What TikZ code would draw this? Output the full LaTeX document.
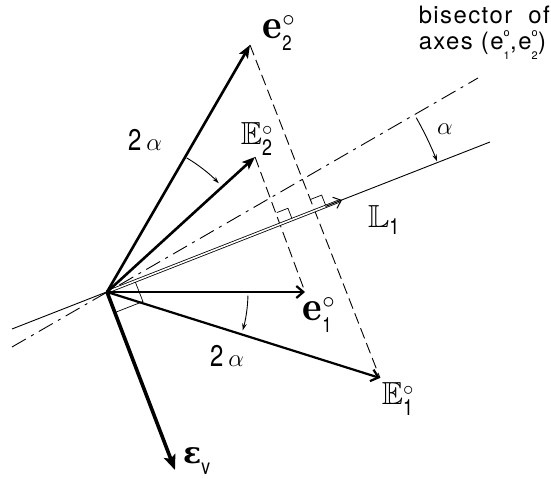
\documentclass[tikz,border=0pt]{standalone}
\usepackage{amsmath,amssymb}
\usepackage{fontspec}
\newfontfamily\lett[FakeStretch=0.8]{TeX Gyre Heros}
\newfontfamily\notefont[LetterSpace=6]{TeX Gyre Heros}
\newfontfamily\greekb{DejaVu Serif}
\newcommand\ssub[1]{\text{\notefont\fontsize{11}{11}\selectfont #1}}
\newcommand\lsub[1]{\raisebox{-4bp}{\lett\fontsize{21}{21}\selectfont #1}}
\newcommand\lsup{\raisebox{3bp}{$\scriptstyle\circ$}}
\usetikzlibrary{arrows.meta,calc}
\begin{document}
\begin{tikzpicture}[x=1bp,y=1bp,
  thinline/.style={line width=0.9bp},
  dashline/.style={line width=0.9bp,dash pattern=on 11bp off 5bp},
  dashdot/.style={line width=0.9bp,dash pattern=on 16bp off 6bp on 3bp off 6bp},
  vec/.style={line width=2.6bp,-{Stealth[length=13bp,width=10bp,inset=3bp]}},
  vecopen/.style={line width=2.2bp,-{Straight Barb[length=7bp,width=12bp]}},
  anglearrow/.style={line width=0.9bp,-{Stealth[length=7bp,width=4.5bp]}},
  lbl/.style={inner sep=0pt,font=\lett\fontsize{30}{30}\selectfont},
  big/.style={inner sep=0pt,font=\fontsize{42}{42}\selectfont},
  bb/.style={inner sep=0pt,font=\fontsize{32}{32}\selectfont},
  note/.style={inner sep=0pt,font=\notefont\fontsize{24}{26}\selectfont,align=left}]
\useasboundingbox (0,0) rectangle (551,479);
% points
\coordinate (O) at (107,187);
\coordinate (e2) at (250,434);
\coordinate (E2) at (255,322);
\coordinate (e1) at (305,187);
\coordinate (E1) at (380,101);
\coordinate (L1) at (342,279);
\coordinate (L1end) at (490,337);
\coordinate (L1back) at (12,150);
\coordinate (Bend) at (478,401);
\coordinate (Bback) at (12,132);
\coordinate (Ev) at (175,9);
\coordinate (F1) at ($(O)!(e2)!(L1)$);
\coordinate (F2) at ($(O)!(E2)!(L1)$);
% bisector and L1 axis
\draw[dashdot] (Bback) -- (Bend);
\draw[thinline] (L1back) -- (L1end);
% dashed projections
\draw[dashline] (e2) -- (E1);
\draw[dashline] (E2) -- (e1);
% right-angle marks
\draw[line width=0.7bp] ($(F1)!12bp!(e2)$) -- ++(21.38:12) -- ($(F1)!12bp!(L1)$);
\draw[line width=0.7bp] ($(F2)!12bp!(E2)$) -- ++(21.38:12) -- ($(F2)!12bp!(L1)$);
\draw[line width=0.7bp] ($(O)!30bp!(L1)$) -- ++(-68.62:22) -- ($(O)!22bp!(Ev)$);
% L1 double vector
\draw[line width=0.8bp,double=white,double distance=1.6bp,shorten >=3bp] (O) -- (L1);
\draw[line width=1bp,-{Straight Barb[length=7bp,width=12bp]}] ($(O)!0.93!(L1)$) -- (L1);
% vectors
\draw[vec] (O) -- (e2);
\draw[vec] (O) -- (E2);
\draw[vecopen] (O) -- (e1);
\draw[vecopen] (O) -- (E1);
\draw[line width=3.6bp,-{Stealth[length=15bp,width=12bp,inset=3bp]}] (O) -- (Ev);
% angle arcs
\draw[anglearrow] ($(O)+(59.3:156)$) arc[start angle=59.3,end angle=44.2,radius=156];
\draw[anglearrow] ($(O)+(-1.5:141)$) arc[start angle=-1.5,end angle=-15.8,radius=141];
\draw[anglearrow] ($(O)+(29.4:355)$) arc[start angle=29.4,end angle=21.6,radius=355];
% labels
\node[big] (le2) at (279,446) {$\mathbf{e}^{\lsup}_{\lsub{2}}$};
\node[bb] (lE2) at (257,340) {$\mathbb{E}^{\circ}_{\text{\lett 2}}$};
\node[lbl] (la1) at (145,339) {2\,$\alpha$};
\node[bb] (lL1) at (384,259) {$\mathbb{L}_{\text{\lett 1}}$};
\node[lbl] (la) at (445,350) {$\alpha$};
\node[big] (le1) at (319,164) {$\mathbf{e}^{\lsup}_{\lsub{1}}$};
\node[lbl] (la2) at (227,123) {2\,$\alpha$};
\node[bb] (lE1) at (398,80) {$\mathbb{E}^{\circ}_{\text{\lett 1}}$};
\node[inner sep=0pt,anchor=base west] (lEv) at (183,15) {{\greekb\bfseries\fontsize{30}{30}\selectfont ε}\raisebox{-11bp}{\lett\fontsize{22}{22}\selectfont v}};
\node[note,anchor=north east] (lbis) at (550,473) {bisector\ \ of\\ axes\ (e$^{\raisebox{4bp}{\ssub{o}}}_{\raisebox{-4bp}{\ssub{1}}}$,e$^{\raisebox{4bp}{\ssub{o}}}_{\raisebox{-4bp}{\ssub{2}}}$)};
\end{tikzpicture}
\end{document}
